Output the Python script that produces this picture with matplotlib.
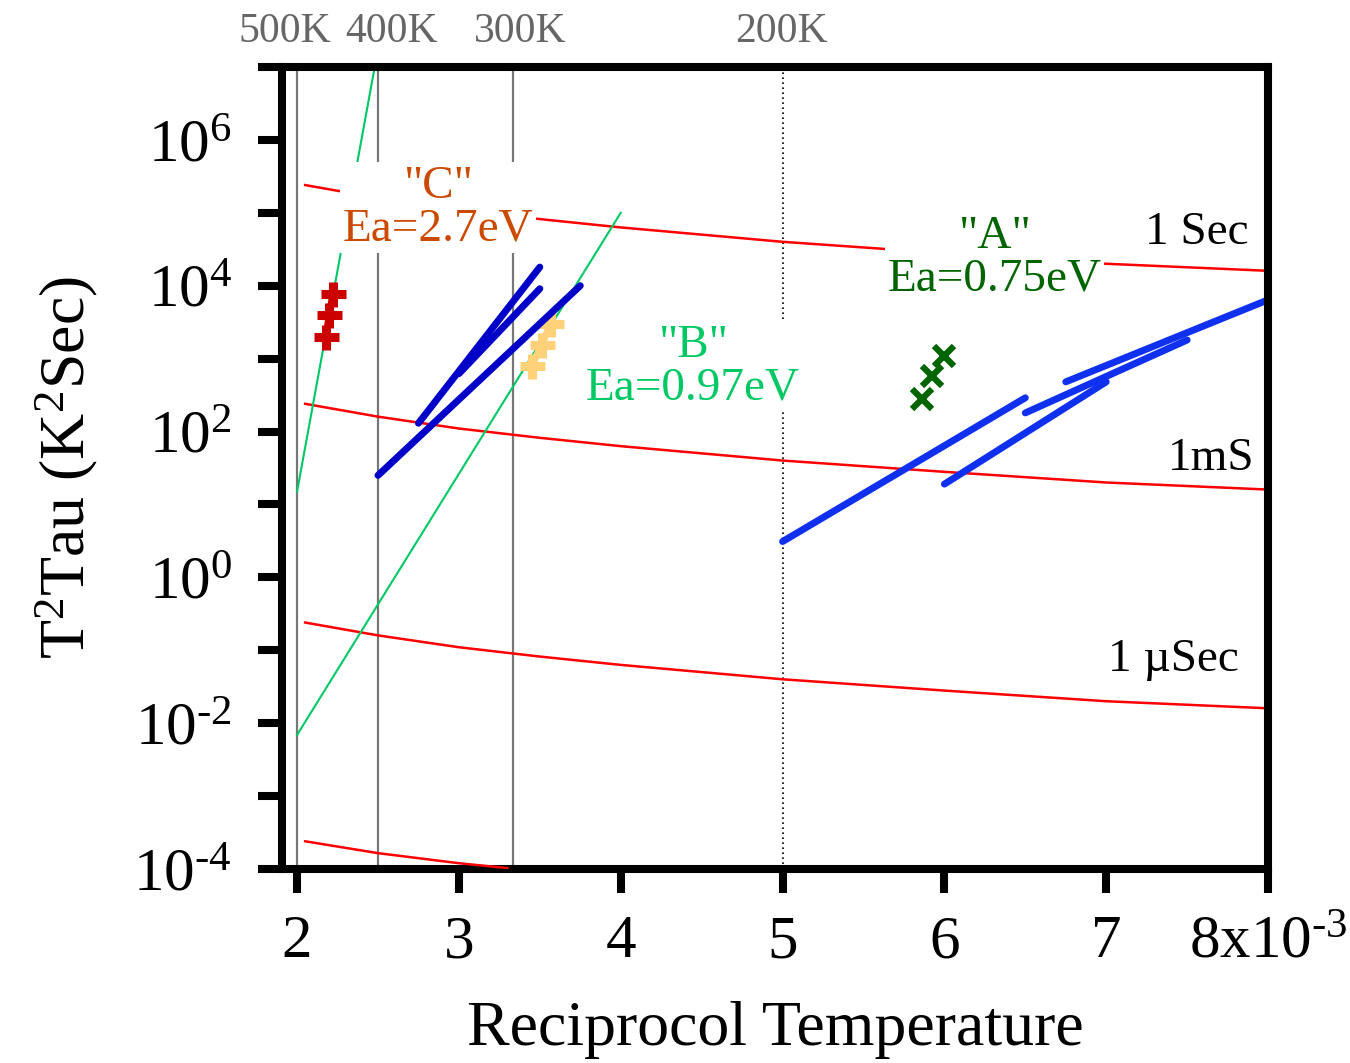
import numpy as np
import matplotlib
matplotlib.use("Agg")
import matplotlib.pyplot as plt
import matplotlib.transforms as mtransforms
from matplotlib.ticker import FixedLocator, NullFormatter

plt.rcParams['font.family'] = ['Liberation Serif', 'DejaVu Serif']
plt.rcParams['mathtext.fontset'] = 'custom'
plt.rcParams['mathtext.rm'] = 'Liberation Serif'
plt.rcParams['mathtext.it'] = 'Liberation Serif:italic'
plt.rcParams['mathtext.bf'] = 'Liberation Serif:bold'

# x axis is 1000/T (units of 1e-3 1/K)
# iso time-constant curves (T^2 * tau)
iso_x = [2.05, 2.5, 3.0, 3.5, 4.0, 5.0, 6.0, 7.0, 8.0]
iso_1sec = [2.4e5, 1.6e5, 1.1e5, 8.2e4, 6.3e4, 4.0e4, 2.8e4, 2.0e4, 1.6e4]
iso_1ms = [240, 160, 110, 82, 63, 40, 28, 20, 16]
iso_1us = [0.24, 0.16, 0.11, 0.082, 0.063, 0.040, 0.028, 0.020, 0.016]
iso_1ns_x = [2.05, 2.5, 3.0, 3.3]
iso_1ns = [2.4e-4, 1.65e-4, 1.2e-4, 1.03e-4]

# measured segments (blue)
blue_left_x = [(2.5, 3.75), (2.75, 3.5), (3.0, 3.5)]
blue_left_y = [(25, 1.0e4), (130, 1.8e4), (620, 9.1e3)]
blue_right_x = [(5.0, 6.5), (6.0, 7.0), (6.5, 7.5), (6.75, 8.0)]
blue_right_y = [(3.1, 290), (19, 480), (180, 1800), (480, 6400)]

# activation energy fits
fit_c_x = [2.0, 2.48]
fit_c_y = [15, 1.0e7]
fit_b_x = [2.0, 4.0]
fit_b_y = [6.9e-3, 1.0e5]

# trap points
trap_c_x = [2.222, 2.198, 2.179]
trap_c_y = [7760, 4010, 2000]
trap_b_x = [3.568, 3.512, 3.451]
trap_b_y = [3010, 1560, 802]
trap_a_x = [5.864, 5.926, 6.0]
trap_a_y = [283, 585, 1100]

# temperature markers
temp_labels = ['500K', '400K', '300K', '200K']
temp_lines = [2.0, 2.5, 3.333, 5.0]
temp_label_x = [1.926, 2.586, 3.377, 4.994]

x_ticks = [2, 3, 4, 5, 6, 7, 8]
x_ticklabels = ['2', '3', '4', '5', '6', '7', r'8x10$^{\text{-3}}$']
y_major = [1e-4, 1e-2, 1e0, 1e2, 1e4, 1e6]
y_ticklabels = [r'10$^{\text{-4}}$', r'10$^{\text{-2}}$', r'10$^{\text{0}}$',
                r'10$^{\text{2}}$', r'10$^{\text{4}}$', r'10$^{\text{6}}$']
y_minor = [1e-3, 1e-1, 1e1, 1e3, 1e5, 1e7]

red = '#ff0000'
green = '#00c864'
orange = '#cc4a00'
dkgreen = '#006400'

fig = plt.figure(figsize=(13.5, 10.63), dpi=100)
ax = fig.add_axes([0.2089, 0.1825, 0.7304, 0.7545])
ax.set_yscale('log')
ax.set_xlim(1.907, 8.0)
ax.set_ylim(1e-4, 1e7)

# reference temperature lines
for xv, lab in zip(temp_lines, temp_labels):
    if lab == '200K':
        ax.axvline(xv, color='black', lw=1.2, ls=(0, (1, 2)), zorder=1)
    else:
        ax.axvline(xv, color='#777777', lw=1.6, zorder=1)

trans = mtransforms.blended_transform_factory(ax.transData, fig.transFigure)
for xv, lab in zip(temp_label_x, temp_labels):
    ax.text(xv, 0.970, lab, transform=trans, ha='center', va='center',
            fontsize=30, color='#666666', clip_on=False)

# iso tau curves
ax.plot(iso_x, iso_1sec, color=red, lw=1.8, zorder=2)
ax.plot(iso_x, iso_1ms, color=red, lw=1.8, zorder=2)
ax.plot(iso_x, iso_1us, color=red, lw=1.8, zorder=2)
ax.plot(iso_1ns_x, iso_1ns, color=red, lw=1.8, zorder=7)

# fits
ax.plot(fit_c_x, fit_c_y, color=green, lw=1.5, zorder=2)
ax.plot(fit_b_x, fit_b_y, color=green, lw=1.5, zorder=2)

# measured segments
for xs, ys in zip(blue_left_x, blue_left_y):
    ax.plot(xs, ys, color='#0000c8', lw=5, solid_capstyle='round', zorder=4)
for xs, ys in zip(blue_right_x, blue_right_y):
    ax.plot(xs, ys, color='#1030f0', lw=5, solid_capstyle='round', zorder=4)

# trap points
ax.plot(trap_c_x, trap_c_y, color='#cc0000', lw=5, marker='+', ms=18, mew=6.5,
        solid_capstyle='round', zorder=3)
ax.plot(trap_b_x, trap_b_y, color='#ffd27a', lw=5, marker='+', ms=18, mew=6.5,
        solid_capstyle='round', zorder=3)
ax.plot(trap_a_x, trap_a_y, color=dkgreen, ls='none', marker='x', ms=14, mew=4.5, zorder=3)

box = dict(facecolor='white', edgecolor='none', pad=2)
ax.text(2.870, 1.17e5, '"C"\nEa=2.7eV', color=orange, fontsize=34, ha='center',
        va='center', linespacing=1.0, bbox=box, zorder=5)
ax.text(4.444, 777, '"B"\nEa=0.97eV', color=green, fontsize=34, ha='center',
        va='center', linespacing=1.0, bbox=box, zorder=5)
ax.text(6.309, 2.42e4, '"A"\nEa=0.75eV', color=dkgreen, fontsize=34, ha='center',
        va='center', linespacing=1.0, bbox=box, zorder=5)
ax.text(7.883, 5.3e4, '1 Sec', fontsize=34, ha='right', va='center', zorder=5)
ax.text(7.914, 42.7, '1mS', fontsize=34, ha='right', va='center', bbox=box, zorder=5)
ax.text(7.821, 0.073, '1 \u00b5Sec', fontsize=34, ha='right', va='center', zorder=5)

# axes styling
for s in ax.spines.values():
    s.set_linewidth(5.8)
    s.set_zorder(6)

ax.xaxis.set_major_locator(FixedLocator(x_ticks))
ax.set_xticklabels(x_ticklabels)
ax.yaxis.set_major_locator(FixedLocator(y_major))
ax.set_yticklabels(y_ticklabels)
ax.yaxis.set_minor_locator(FixedLocator(y_minor))
ax.yaxis.set_minor_formatter(NullFormatter())
ax.tick_params(axis='both', which='both', direction='out', length=17, width=5.8,
               labelsize=44, top=False, right=False)
ax.tick_params(axis='x', pad=16)
ax.tick_params(axis='y', pad=19)

ax.set_xlabel('Reciprocol Temperature', fontsize=46, labelpad=22)
ax.set_ylabel(r'T$^{\text{2}}$Tau (K$^{\text{2}}$Sec)', fontsize=46, labelpad=24)

fig.savefig('out.png', dpi=100)
